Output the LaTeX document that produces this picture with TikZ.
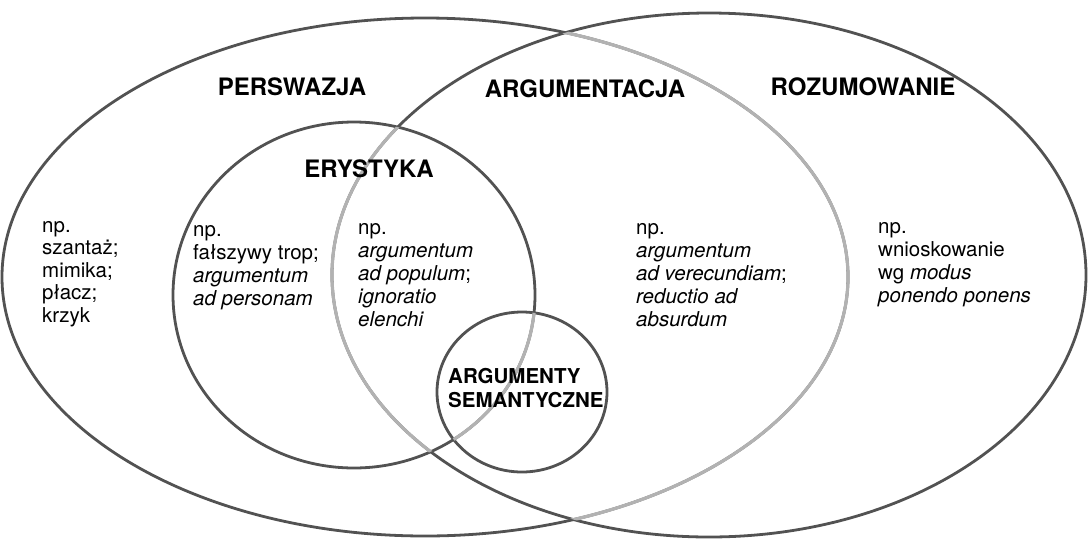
\documentclass[tikz,border=0pt]{standalone}
\usepackage{fontspec}
\setmainfont{TeX Gyre Heros}
\begin{document}
\begin{tikzpicture}[x=1pt,y=-1pt,
  darkline/.style={draw=black!68, line width=2.8pt},
  lightline/.style={draw=black!30, line width=3.2pt},
  head/.style={inner sep=0pt, anchor=base, font=\fontsize{24}{26}\selectfont\bfseries},
  body/.style={inner sep=0pt, anchor=base west, align=left, font=\fontsize{20.5}{23}\selectfont}]
\useasboundingbox (0,0) rectangle (1088,539);
% dark outlines
\draw[darkline] (425,277) ellipse [x radius=423, y radius=259];
\draw[darkline] (709,275) ellipse [x radius=377, y radius=262];
\draw[darkline] (354,295) ellipse [x radius=181, y radius=173];
\draw[darkline] (522,392) ellipse [x radius=85, y radius=80];
% lighter segments
\begin{scope}
  \clip (709,275) ellipse [x radius=377, y radius=262];
  \draw[lightline] (425,277) ellipse [x radius=423, y radius=259];
\end{scope}
\begin{scope}
  \clip (354,295) ellipse [x radius=181, y radius=173];
  \draw[lightline] (709,275) ellipse [x radius=377, y radius=262];
\end{scope}
\begin{scope}
  \clip (522,392) ellipse [x radius=85, y radius=80];
  \draw[lightline] (354,295) ellipse [x radius=181, y radius=173];
\end{scope}
% headings
\node[head] (pers) at (292,95) {PERSWAZJA};
\node[head] (argu) at (585,97) {ARGUMENTACJA};
\node[head] (rozu) at (863,95) {ROZUMOWANIE};
\node[head] (erys) at (369,177) {ERYSTYKA};
\node[inner sep=0pt, anchor=base west, align=left, font=\fontsize{20.5}{24}\selectfont\bfseries] (sem) at (448,407) {ARGUMENTY\\SEMANTYCZNE};
% examples (anchored at the baseline of the last line)
\node[body, font=\fontsize{20.5}{22.5}\selectfont] (t1) at (42,322) {np.\\szantaż;\\mimika;\\płacz;\\krzyk};
\node[body] (t2) at (193,305) {np.\\fałszywy trop;\\\textit{argumentum}\\\textit{ad personam}};
\node[body] (t3) at (358,326) {np.\\\textit{argumentum}\\\textit{ad populum};\\\textit{ignoratio}\\\textit{elenchi}};
\node[body] (t4) at (636,326) {np.\\\textit{argumentum}\\\textit{ad verecundiam};\\\textit{reductio ad}\\\textit{absurdum}};
\node[body] (t5) at (878,302) {np.\\wnioskowanie\\wg \textit{modus}\\\textit{ponendo ponens}};
\end{tikzpicture}
\end{document}
